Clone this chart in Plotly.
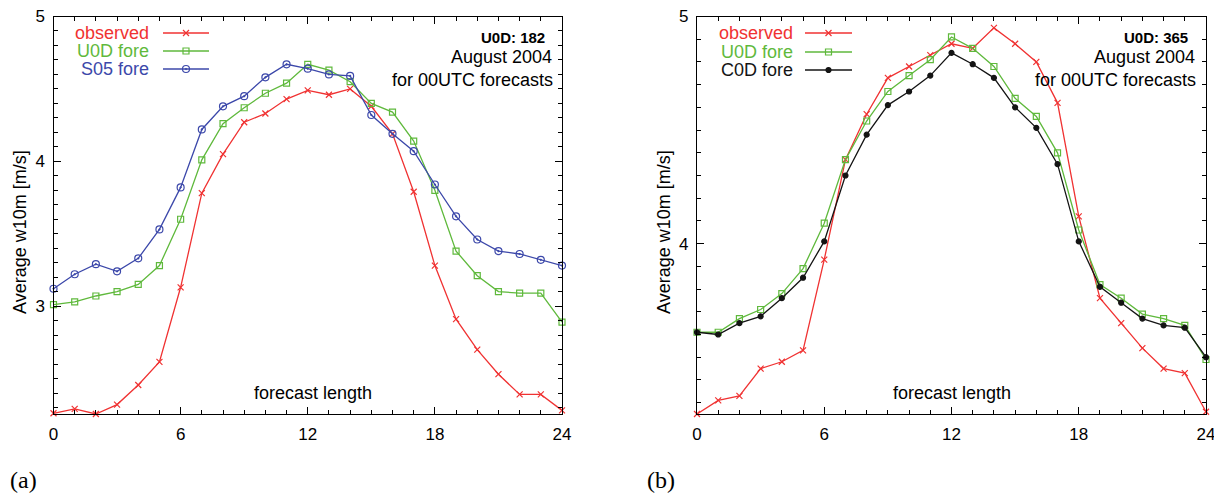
import plotly.graph_objects as go

# ---------------- data ----------------
hours = list(range(25))
x_tick_vals = [0, 6, 12, 18, 24]

obs_a = [2.26, 2.29, 2.255, 2.32, 2.455, 2.615, 3.13, 3.78, 4.05, 4.27, 4.33, 4.43, 4.49,
         4.46, 4.50, 4.38, 4.19, 3.79, 3.28, 2.91, 2.70, 2.53, 2.39, 2.39, 2.28]
u0d_a = [3.01, 3.03, 3.07, 3.10, 3.15, 3.28, 3.60, 4.01, 4.26, 4.37, 4.47, 4.54, 4.67,
         4.63, 4.55, 4.40, 4.34, 4.14, 3.80, 3.38, 3.21, 3.10, 3.09, 3.09, 2.89]
s05_a = [3.12, 3.22, 3.29, 3.24, 3.33, 3.53, 3.82, 4.22, 4.38, 4.45, 4.58, 4.67, 4.64,
         4.60, 4.59, 4.32, 4.19, 4.07, 3.84, 3.62, 3.46, 3.38, 3.36, 3.32, 3.28]

obs_b = [3.25, 3.31, 3.33, 3.45, 3.48, 3.53, 3.93, 4.37, 4.57, 4.73, 4.78, 4.83, 4.88,
         4.86, 4.95, 4.88, 4.80, 4.62, 4.12, 3.76, 3.65, 3.54, 3.45, 3.43, 3.26]
u0d_b = [3.61, 3.61, 3.67, 3.71, 3.78, 3.89, 4.09, 4.37, 4.54, 4.67, 4.74, 4.81, 4.91,
         4.86, 4.78, 4.64, 4.56, 4.40, 4.06, 3.82, 3.76, 3.69, 3.67, 3.64, 3.49]
c0d_b = [3.61, 3.60, 3.65, 3.68, 3.76, 3.85, 4.01, 4.30, 4.48, 4.61, 4.67, 4.74, 4.84,
         4.79, 4.73, 4.60, 4.51, 4.35, 4.01, 3.81, 3.74, 3.67, 3.64, 3.63, 3.50]

y_tick_a = [3, 4, 5]
y_tick_b = [4, 5]

# ---------------- styles ----------------
# the page body has an 8px margin, so the figure is drawn 8px right/down;
# positions below are given in screen pixels and converted with fx/fy.
OFF = 8
W, H = 1222 - OFF, 497 - OFF
RED = "rgb(240,50,50)"
GREEN = "rgb(95,185,60)"
BLUE = "rgb(60,72,170)"
BLACK = "rgb(20,20,20)"
FONT = "Liberation Sans, Arial, sans-serif"


def fx(x):
    return (x - OFF) / W


def fy(y):
    return 1 - (y - OFF) / H


styles = {
    "observed": dict(color=RED, symbol="x-thin-open", size=6),
    "U0D fore": dict(color=GREEN, symbol="square-open", size=6),
    "S05 fore": dict(color=BLUE, symbol="circle-open-dot", size=7),
    "C0D fore": dict(color=BLACK, symbol="circle", size=5),
}

fig = go.Figure()


def add_series(name, ys, xa, ya):
    s = styles[name]
    fig.add_trace(go.Scatter(
        x=hours, y=ys, mode="lines+markers", name=name, showlegend=False,
        xaxis=xa, yaxis=ya, cliponaxis=False,
        line=dict(color=s["color"], width=1.3),
        marker=dict(symbol=s["symbol"], size=s["size"], color=s["color"],
                    line=dict(color=s["color"], width=1.2)),
    ))


add_series("observed", obs_a, "x", "y")
add_series("U0D fore", u0d_a, "x", "y")
add_series("S05 fore", s05_a, "x", "y")
add_series("observed", obs_b, "x2", "y2")
add_series("U0D fore", u0d_b, "x2", "y2")
add_series("C0D fore", c0d_b, "x2", "y2")

axis_common = dict(
    showline=True, linecolor="black", linewidth=1.3, mirror="ticks",
    ticks="inside", ticklen=7, tickwidth=1.3, tickcolor="black",
    showgrid=False, zeroline=False, ticklabeloverflow="allow",
    tickfont=dict(family=FONT, size=17, color="black"),
)
minor_common = dict(ticklen=4, ticks="inside", tickcolor="black", tickwidth=1.1)

left_dom = [fx(53.5), fx(562)]
right_dom = [fx(697), fx(1206)]
y_dom = [fy(414), fy(16.5)]

fig.update_layout(
    width=W, height=H, margin=dict(l=0, r=0, t=0, b=0, autoexpand=False),
    paper_bgcolor="white", plot_bgcolor="rgba(0,0,0,0)", showlegend=False,
    xaxis=dict(domain=left_dom, range=[0, 24], tickvals=x_tick_vals, anchor="y",
               ticklabelstandoff=4, minor=dict(dtick=1, **minor_common), **axis_common),
    yaxis=dict(domain=y_dom, range=[2.255, 5.0001], tickvals=y_tick_a, anchor="x",
               ticklabelstandoff=4, minor=dict(dtick=0.1, **minor_common), **axis_common),
    xaxis2=dict(domain=right_dom, range=[0, 24], tickvals=x_tick_vals, anchor="y2",
                ticklabelstandoff=4, minor=dict(dtick=1, **minor_common), **axis_common),
    yaxis2=dict(domain=y_dom, range=[3.25, 5.0001], tickvals=y_tick_b, anchor="x2",
                ticklabelstandoff=4, minor=dict(dtick=0.1, **minor_common), **axis_common),
    # hidden overlay axes for the legend keys
    xaxis3=dict(domain=[0, 1], range=[0, 1], visible=False, anchor="y3"),
    yaxis3=dict(domain=[0, 1], range=[0, 1], visible=False, anchor="x3"),
)

annotations = []
shapes = []


def legend(entries, text_right, line_x0, line_x1, ys):
    for name, y in zip(entries, ys):
        s = styles[name]
        annotations.append(dict(
            text=name, xref="paper", yref="paper", x=fx(text_right), y=fy(y),
            xanchor="right", yanchor="middle", showarrow=False,
            font=dict(family=FONT, size=18, color=s["color"])))
        shapes.append(dict(type="line", xref="paper", yref="paper",
                           x0=fx(line_x0), x1=fx(line_x1), y0=fy(y), y1=fy(y),
                           line=dict(color=s["color"], width=1.3)))
        fig.add_trace(go.Scatter(
            x=[fx((line_x0 + line_x1) / 2)], y=[fy(y)], mode="markers",
            xaxis="x3", yaxis="y3", showlegend=False, hoverinfo="skip",
            marker=dict(symbol=s["symbol"], size=s["size"], color=s["color"],
                        line=dict(color=s["color"], width=1.2))))


legend(["observed", "U0D fore", "S05 fore"], 151, 163, 209, [33, 51, 69])
legend(["observed", "U0D fore", "C0D fore"], 795, 805, 852, [33, 52, 70])


def info(right_bold, right_txt, count):
    annotations.append(dict(
        text="<b>U0D: %d</b>" % count, xref="paper", yref="paper",
        x=fx(right_bold), y=fy(37), xanchor="right", yanchor="middle",
        showarrow=False, font=dict(family=FONT, size=15, color="black")))
    annotations.append(dict(
        text="August 2004", xref="paper", yref="paper",
        x=fx(right_txt), y=fy(57), xanchor="right", yanchor="middle",
        showarrow=False, font=dict(family=FONT, size=18, color="black")))
    annotations.append(dict(
        text="for 00UTC forecasts", xref="paper", yref="paper",
        x=fx(right_txt + 1), y=fy(80), xanchor="right", yanchor="middle",
        showarrow=False, font=dict(family=FONT, size=18, color="black")))


info(547, 554, 182)
info(1190, 1197, 365)

for cx in (313, 952):
    annotations.append(dict(
        text="forecast length", xref="paper", yref="paper", x=fx(cx), y=fy(393),
        xanchor="center", yanchor="middle", showarrow=False,
        font=dict(family=FONT, size=18, color="black")))

for cx in (20, 664):
    annotations.append(dict(
        text="Average w10m [m/s]", xref="paper", yref="paper", x=fx(cx), y=fy(232),
        xanchor="center", yanchor="middle", textangle=-90, showarrow=False,
        font=dict(family=FONT, size=18, color="black")))

for lx, lab in ((8, "(a)"), (645, "(b)")):
    annotations.append(dict(
        text=lab, xref="paper", yref="paper", x=fx(lx), y=fy(480),
        xanchor="left", yanchor="middle", showarrow=False,
        font=dict(family="Liberation Serif, Times New Roman, serif", size=24, color="black")))

fig.update_layout(annotations=annotations, shapes=shapes)
fig.write_html("out.html")
